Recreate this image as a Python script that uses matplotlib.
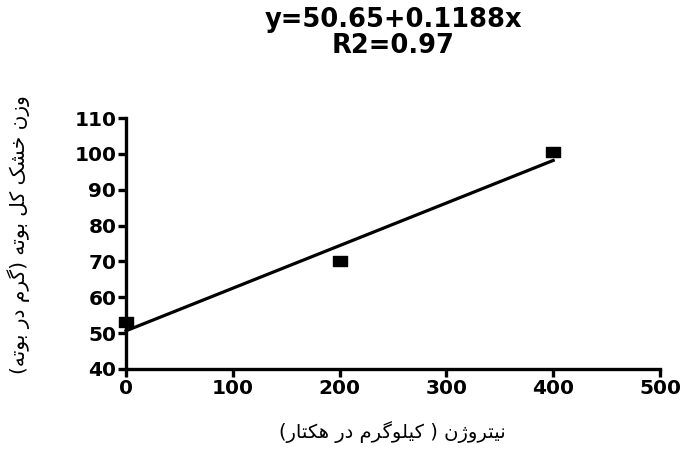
import matplotlib
matplotlib.use("Agg")
import matplotlib.pyplot as plt
import numpy as np
from matplotlib.path import Path

# ---- data ----
nitrogen = [0, 200, 400]
dry_weight = [53.0, 70.0, 100.5]
intercept = 50.65
slope = 0.1188
r2 = 0.97
x_ticks = [0, 100, 200, 300, 400, 500]
y_ticks = [40, 50, 60, 70, 80, 90, 100, 110]
title_text = "y=50.65+0.1188x\nR2=0.97"
x_label = "نیتروژن ( کیلوگرم در هکتار)"
y_label = "وزن خشک کل بوته (گرم در بوته)"

# ---- minimal Persian shaping (presentation forms + visual order) ----
FORMS = {
    'ا': ('\uFE8D', '\uFE8E', None, None),
    'ب': ('\uFE8F', '\uFE90', '\uFE91', '\uFE92'),
    'ت': ('\uFE95', '\uFE96', '\uFE97', '\uFE98'),
    'خ': ('\uFEA5', '\uFEA6', '\uFEA7', '\uFEA8'),
    'د': ('\uFEA9', '\uFEAA', None, None),
    'ر': ('\uFEAD', '\uFEAE', None, None),
    'ز': ('\uFEAF', '\uFEB0', None, None),
    'ژ': ('\uFB8A', '\uFB8B', None, None),
    'ش': ('\uFEB5', '\uFEB6', '\uFEB7', '\uFEB8'),
    'ل': ('\uFEDD', '\uFEDE', '\uFEDF', '\uFEE0'),
    'م': ('\uFEE1', '\uFEE2', '\uFEE3', '\uFEE4'),
    'ن': ('\uFEE5', '\uFEE6', '\uFEE7', '\uFEE8'),
    'ه': ('\uFEE9', '\uFEEA', '\uFEEB', '\uFEEC'),
    'و': ('\uFEED', '\uFEEE', None, None),
    'ک': ('\uFB8E', '\uFB8F', '\uFB90', '\uFB91'),
    'گ': ('\uFB92', '\uFB93', '\uFB94', '\uFB95'),
    'ی': ('\uFBFC', '\uFBFD', '\uFBFE', '\uFBFF'),
}
RIGHT_ONLY = set('ادرزژو')


def shape(s):
    out = []
    for i, c in enumerate(s):
        if c not in FORMS:
            out.append(c)
            continue
        prev = s[i - 1] if i > 0 else None
        nxt = s[i + 1] if i + 1 < len(s) else None
        jp = prev in FORMS and prev not in RIGHT_ONLY
        jn = nxt in FORMS and c not in RIGHT_ONLY
        iso, fin, ini, med = FORMS[c]
        if jp and jn:
            out.append(med)
        elif jp:
            out.append(fin)
        elif jn:
            out.append(ini)
        else:
            out.append(iso)
    vis = ''.join(out)[::-1]
    return vis.translate(str.maketrans('()', ')('))


fig = plt.figure(figsize=(6.82, 4.49), dpi=100)
ax = fig.add_axes([126 / 682, 1 - 369 / 449, (660 - 126) / 682, (369 - 118) / 449])

rect = Path([(-1, -0.7), (1, -0.7), (1, 0.7), (-1, 0.7), (-1, -0.7)],
            [Path.MOVETO, Path.LINETO, Path.LINETO, Path.LINETO, Path.CLOSEPOLY])
ax.plot(nitrogen, dry_weight, linestyle='none', marker=rect, markersize=10.5,
        color='black', clip_on=False, zorder=3)
xl = np.array([min(nitrogen), max(nitrogen)])
ax.plot(xl, intercept + slope * xl, color='black', lw=2.3, clip_on=False)

ax.set_xlim(0, 500)
ax.set_ylim(40, 110)
ax.set_xticks(x_ticks)
ax.set_yticks(y_ticks)
for s in ['top', 'right']:
    ax.spines[s].set_visible(False)
for s in ['left', 'bottom']:
    ax.spines[s].set_linewidth(2.4)
ax.tick_params(direction='out', length=5.5, width=2.4, pad=1.5,
               labelsize=14.5, colors='black')
for lab in ax.get_xticklabels() + ax.get_yticklabels():
    lab.set_fontweight('bold')
    lab.set_family('DejaVu Sans')

fig.text(393 / 682, 1 - 33 / 449, title_text, ha='center', va='center',
         fontsize=18.5, fontweight='bold', linespacing=1.0)

fig.text(392 / 682, 1 - 432 / 449, shape(x_label), ha='center', va='center',
         fontsize=14, family='DejaVu Sans')
fig.text(19 / 682, 1 - 235 / 449, shape(y_label), ha='center', va='center',
         rotation=90, fontsize=14.5, family='DejaVu Sans')

fig.savefig('out.png', dpi=100)
